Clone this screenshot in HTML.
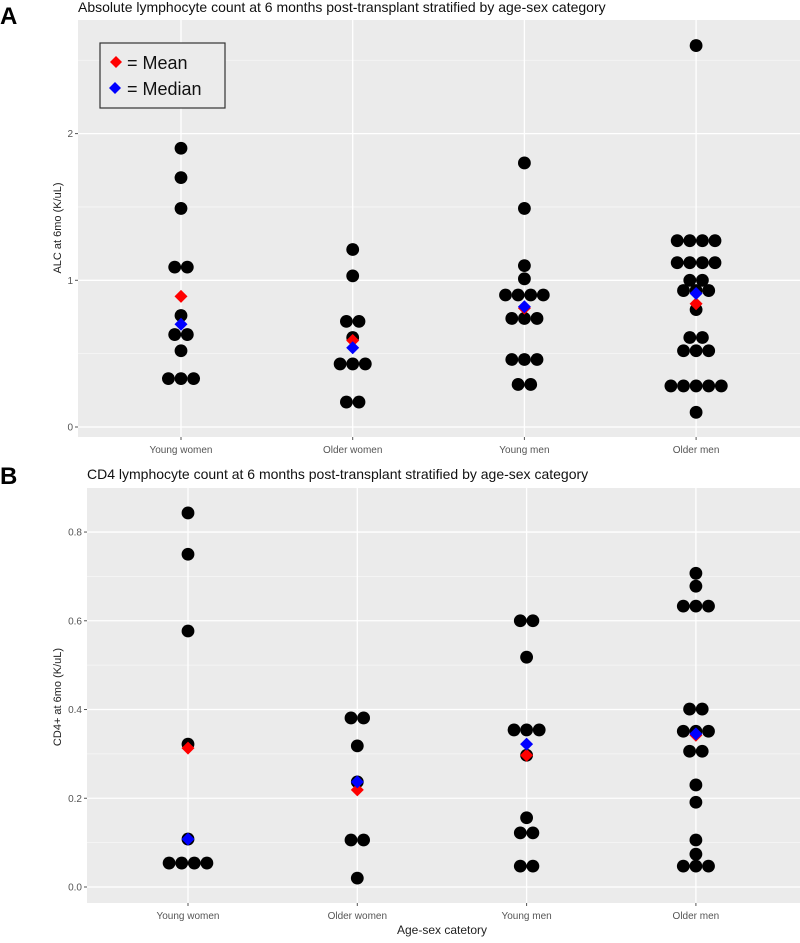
<!DOCTYPE html>
<html><head><meta charset="utf-8">
<style>
body{margin:0;background:#fff;font-family:"Liberation Sans",Arial,sans-serif;}
svg text{font-family:"Liberation Sans",Arial,sans-serif;}
</style></head>
<body>
<svg id="chart" width="800" height="938" viewBox="0 0 800 938" xmlns="http://www.w3.org/2000/svg">
  <text x="0" y="24" font-size="24" font-weight="bold">A</text>
  <text x="78" y="12" font-size="14" fill="#111">Absolute lymphocyte count at 6 months post-transplant stratified by age-sex category</text>
  <text x="0" y="484" font-size="24" font-weight="bold">B</text>
  <text x="87" y="479" font-size="14" fill="#111">CD4 lymphocyte count at 6 months post-transplant stratified by age-sex category</text>
  <g id="pa"></g>
  <g id="pb"></g>
  <text x="442" y="934" font-size="12" fill="#222" text-anchor="middle">Age-sex catetory</text>
</svg>
<script>
const categories = ["Young women","Older women","Young men","Older men"];
// Panel A: ALC values
const alcYoungWomen = [1.90,1.70,1.49,1.09,1.09,0.76,0.63,0.63,0.52,0.33,0.33,0.33];
const alcOlderWomen = [1.21,1.03,0.72,0.72,0.61,0.43,0.43,0.43,0.17,0.17];
const alcYoungMen = [1.80,1.49,1.10,1.01,0.90,0.90,0.90,0.90,0.74,0.74,0.74,0.46,0.46,0.46,0.29,0.29];
const alcOlderMen = [2.60,1.27,1.27,1.27,1.27,1.12,1.12,1.12,1.12,1.00,1.00,0.93,0.93,0.93,0.80,0.61,0.61,0.52,0.52,0.52,0.28,0.28,0.28,0.28,0.28,0.10];
const alcMeans = [0.89,0.59,0.81,0.84];
const alcMedians = [0.70,0.54,0.82,0.91];
const alcTicks = [0,1,2];
// Panel B: CD4 values
const cd4YoungWomen = [0.843,0.75,0.577,0.322,0.108,0.054,0.054,0.054,0.054];
const cd4OlderWomen = [0.381,0.381,0.318,0.237,0.106,0.106,0.020];
const cd4YoungMen = [0.600,0.600,0.518,0.354,0.354,0.354,0.297,0.156,0.122,0.122,0.047,0.047];
const cd4OlderMen = [0.707,0.678,0.633,0.633,0.633,0.401,0.401,0.351,0.351,0.351,0.306,0.306,0.230,0.191,0.106,0.074,0.047,0.047,0.047];
const cd4Means = [0.313,0.219,0.297,0.342];
const cd4Medians = [0.108,0.237,0.322,0.345];
const cd4Ticks = [0.0,0.2,0.4,0.6,0.8];
const cd4TickLabels = ["0.0","0.2","0.4","0.6","0.8"];

const NS="http://www.w3.org/2000/svg";
function mk(tag, attrs, parent){const e=document.createElementNS(NS,tag);for(const k in attrs)e.setAttribute(k,attrs[k]);parent.appendChild(e);return e;}

function panel(g, cfg){
  const {left,right,top,bottom,y0px,unit,catX,series,means,medians,ticks,tickLabels,minor,ytitle,ytitleY,xlabY} = cfg;
  const yS = v => y0px - v*unit;
  const bg = mk('rect',{x:left,y:top,width:right-left,height:bottom-top,fill:'#ebebeb'},g);
  
  
  minor.forEach(v=>{const y=yS(v); if(y>top&&y<bottom){const l=mk('line',{x1:left,x2:right,y1:y,y2:y,stroke:'#f7f7f7','stroke-width':0.8},g);
    
    }});
  ticks.forEach((v,i)=>{const y=yS(v);
    const l=mk('line',{x1:left,x2:right,y1:y,y2:y,stroke:'#fff','stroke-width':1.3},g);
    
    
    mk('line',{x1:left-3,x2:left,y1:y,y2:y,stroke:'#555','stroke-width':1},g);
    const t=mk('text',{x:left-5,y:y+3.5,'font-size':10,fill:'#555','text-anchor':'end'},g);
    t.textContent=tickLabels[i];
    
    });
  categories.forEach((c,i)=>{const x=catX(i);
    const l=mk('line',{x1:x,x2:x,y1:top,y2:bottom,stroke:'#fff','stroke-width':1.3},g);
    
    
    mk('line',{x1:x,x2:x,y1:bottom,y2:bottom+3,stroke:'#555','stroke-width':1},g);
    const t=mk('text',{x:x,y:xlabY,'font-size':10,fill:'#555','text-anchor':'middle'},g);
    t.textContent=c;
    
    });
  const yt=mk('text',{x:0,y:0,'font-size':11,fill:'#222','text-anchor':'middle',transform:`translate(61,${ytitleY}) rotate(-90)`},g);
  yt.textContent=ytitle;
  
  
  const sp=12.6, r=6.4;
  series.forEach((vals,i)=>{
    const groups=new Map();
    vals.forEach(v=>groups.set(v,(groups.get(v)||0)+1));
    groups.forEach((n,v)=>{
      for(let k=0;k<n;k++){
        const cx=catX(i)+(k-(n-1)/2)*sp;
        const d=mk('circle',{cx:cx,cy:yS(v),r:r,fill:'#000'},g);
        
        
      }
    });
  });
  const dia=(x,y,col,name)=>{const s=6.5;const p=mk('polygon',{points:`${x},${y-s} ${x+s},${y} ${x},${y+s} ${x-s},${y}`,fill:col},g);
    
    };
  means.forEach((v,i)=>dia(catX(i),yS(v),'#ff0000','mean-marker'));
  medians.forEach((v,i)=>dia(catX(i),yS(v),'#0000ff','median-marker'));
}

panel(document.getElementById('pa'),{
  left:78,right:800,top:20,bottom:437,y0px:427,unit:146.7,
  catX:i=>181+i*171.7,
  series:[alcYoungWomen,alcOlderWomen,alcYoungMen,alcOlderMen],
  means:alcMeans,medians:alcMedians,ticks:alcTicks,tickLabels:alcTicks.map(String),
  minor:[0.5,1.5,2.5],ytitle:'ALC at 6mo (K/uL)',ytitleY:228,xlabY:453
});
panel(document.getElementById('pb'),{
  left:87,right:800,top:488,bottom:903,y0px:887,unit:443.7,
  catX:i=>188+i*169.3,
  series:[cd4YoungWomen,cd4OlderWomen,cd4YoungMen,cd4OlderMen],
  means:cd4Means,medians:cd4Medians,ticks:cd4Ticks,tickLabels:cd4TickLabels,
  minor:[0.1,0.3,0.5,0.7,0.9],ytitle:'CD4+ at 6mo (K/uL)',ytitleY:697,xlabY:919
});

// legend
const svg=document.getElementById('chart');
const lg=mk('g',{},svg);


mk('rect',{x:100,y:43,width:125,height:65,fill:'#ebebeb',stroke:'#333','stroke-width':1.2},lg);
mk('polygon',{points:'116,56 122,62 116,68 110,62',fill:'#ff0000'},lg);
mk('polygon',{points:'115,82 121,88 115,94 109,88',fill:'#0000ff'},lg);
const t1=mk('text',{x:127,y:69,'font-size':18,fill:'#111'},lg);
t1.textContent='= Mean';


const t2=mk('text',{x:127,y:95,'font-size':18,fill:'#111'},lg);
t2.textContent='= Median';


</script>
</body></html>
